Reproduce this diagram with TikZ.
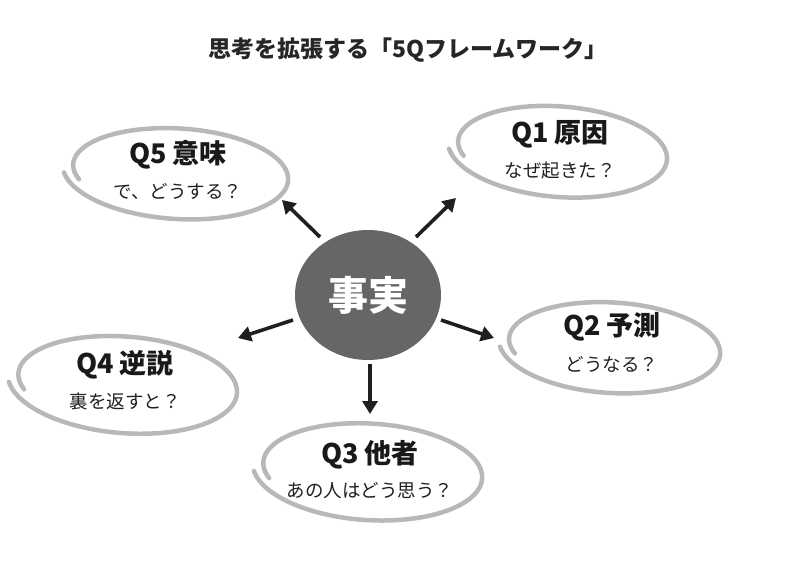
\documentclass[tikz,border=0pt]{standalone}
\usepackage{fontspec}
\setmainfont{Noto Sans CJK JP}
\usetikzlibrary{arrows.meta,shapes.geometric}
\newcommand\mybub[5]{% cx cy rx ry rot
  \draw[bubble,rotate around={#5:(#1,#2)}] plot[domain=160:530,samples=90,smooth]
   ({#1+#3*cos(\x)*(0.95+0.1*(\x-160)/370)},{#2+#4*sin(\x)*(0.92+0.16*(\x-160)/370)});}
\begin{document}
\begin{tikzpicture}[x=1pt,y=-1pt,
  bubble/.style={draw=black!28,line width=4.5pt,line cap=round},
  arr/.style={-{Triangle[length=13pt,width=15pt]},line width=3.6pt,draw=black!88},
  ttl/.style={font=\fontsize{27}{30}\selectfont\bfseries,text=black!90},
  sub/.style={font=\fontsize{18.5}{21}\selectfont,text=black!88}]
\useasboundingbox (0,0) rectangle (795,575);
\node[font=\fontsize{23}{26}\selectfont\bfseries,text=black!85] (title) at (408,50) {思考を拡張する「5Qフレームワーク」};
\mybub{178}{172}{110}{45}{-4}
\mybub{560}{150}{107}{45}{-5}
\mybub{612}{346}{108}{45}{-4}
\mybub{125}{383}{112}{48}{-5}
\mybub{370}{470}{112}{48}{-4}
\node[ellipse,fill=black!60,minimum width=146pt,minimum height=130pt,text=white,font=\fontsize{40}{44}\selectfont\bfseries] (c) at (368,295) {事実};
\node[ttl] (q5) at (178,155) {Q5 意味};
\node[sub] (q5s) at (178,191) {で、どうする？};
\node[ttl] (q1) at (560,134) {Q1 原因};
\node[sub] (q1s) at (560,171) {なぜ起きた？};
\node[ttl] (q2) at (612,327) {Q2 予測};
\node[sub] (q2s) at (612,364) {どうなる？};
\node[ttl] (q4) at (125,365) {Q4 逆説};
\node[sub] (q4s) at (125,401) {裏を返すと？};
\node[ttl] (q3) at (370,455) {Q3 他者};
\node[sub] (q3s) at (370,491) {あの人はどう思う？};
\coordinate (a5) at (282,200); \coordinate (a1) at (456,198);
\coordinate (a2) at (494,338); \coordinate (a4) at (238,338); \coordinate (a3) at (370,414);
\draw[arr] (320,237) -- (a5);
\draw[arr] (416,237) -- (a1);
\draw[arr] (441,320) -- (a2);
\draw[arr] (293,320) -- (a4);
\draw[arr] (370,364) -- (a3);
\end{tikzpicture}
\end{document}
